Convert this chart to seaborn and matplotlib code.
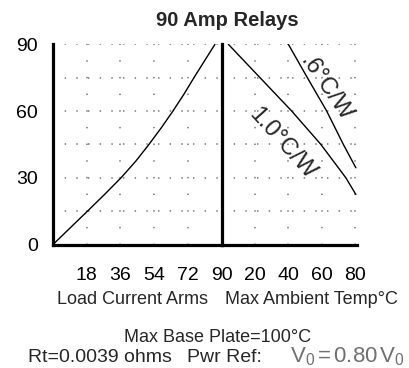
import numpy as np
import pandas as pd
import matplotlib
matplotlib.use("Agg")
import matplotlib.pyplot as plt
import seaborn as sns

sns.set_theme(style='white')
plt.rcParams['font.family'] = ['Liberation Sans', 'DejaVu Sans']
plt.rcParams['mathtext.fontset'] = 'custom'
plt.rcParams['mathtext.rm'] = 'Liberation Sans'
plt.rcParams['mathtext.it'] = 'Liberation Sans'

# power dissipation (W) vs load current (A rms)
load_current = [0, 9.2, 18.4, 27.5, 36.3, 44.2, 51.2, 57.8, 64, 69.8, 75.2, 80.8, 86.4]
load_power = [0, 7.5, 15, 22.5, 30, 37.5, 45, 52.5, 60, 67.5, 75, 82.5, 90]

# max ambient temp (C) vs power for two heatsink ratings
temp_1_0 = [4, 23, 42, 59.5, 74.5, 80.5]
power_1_0 = [90, 75, 60, 45, 30, 22.5]
temp_0_6 = [40, 51.4, 63, 73, 80.5]
power_0_6 = [90, 75, 60, 45, 34.5]

current_ticks = [18, 36, 54, 72, 90]
temp_ticks = [20, 40, 60, 80]
power_ticks = [0, 30, 60, 90]
power_grid = [15, 30, 45, 60, 75, 90]

W, H = 409, 368
fig = plt.figure(figsize=(W / 100, H / 100), dpi=100)
x0, xm, x1 = 53, 221.7, 357
ytop, ybot = 44.3, 244.5
ax1 = fig.add_axes([x0 / W, 1 - ybot / H, (xm - x0) / W, (ybot - ytop) / H])
ax2 = fig.add_axes([xm / W, 1 - ybot / H, (x1 - xm) / W, (ybot - ytop) / H])

df_load = pd.DataFrame({'I': load_current, 'P': load_power})
sns.lineplot(data=df_load, x='I', y='P', ax=ax1, color='black', lw=1.0, sort=False)
df_a = pd.DataFrame({'T': temp_1_0, 'P': power_1_0})
df_b = pd.DataFrame({'T': temp_0_6, 'P': power_0_6})
sns.lineplot(data=df_a, x='T', y='P', ax=ax2, color='black', lw=1.0, sort=False)
sns.lineplot(data=df_b, x='T', y='P', ax=ax2, color='black', lw=1.0, sort=False)

grid_col = '#8a8a8a'
for ax, xt, xmax in [(ax1, current_ticks[:-1], 90), (ax2, temp_ticks, 81.2)]:
    ax.set_xlim(0, xmax)
    ax.set_ylim(0, 90)
    for y in power_grid:
        ax.axhline(y, color=grid_col, lw=1.3, ls=(0, (0.8, 5.66)), zorder=0)
    for x in xt:
        ax.axvline(x, color=grid_col, lw=1.3, ls=(0, (0.8, 8.43)), zorder=0)
    for s in ['top', 'right']:
        ax.spines[s].set_visible(False)
    for s in ['left', 'bottom']:
        ax.spines[s].set_linewidth(2.3)
        ax.spines[s].set_color('black')
    ax.set_xlabel('')
    ax.set_ylabel('')
    ax.tick_params(length=0, labelsize=14, colors='black')
    ax.tick_params(axis='x', pad=16)

ax1.set_xticks(current_ticks)
ax2.set_xticks(temp_ticks)
ax1.set_yticks(power_ticks)
ax1.tick_params(axis='y', pad=11)
ax2.set_yticks([])

ax2.text(62.9, 70, '.6°C/W', rotation=-55.6, ha='center', va='center', fontsize=17)
ax2.text(36, 45.4, '1.0°C/W', rotation=-48, ha='center', va='center', fontsize=17)

fig.text(227 / W, 1 - 21 / H, '90 Amp Relays', ha='center', va='center',
         fontsize=14.5, fontweight='bold')
fig.text(57 / W, 1 - 300 / H, 'Load Current Arms', ha='left', va='center', fontsize=13)
fig.text(225 / W, 1 - 300 / H, 'Max Ambient Temp°C', ha='left', va='center', fontsize=13)
fig.text(218 / W, 1 - 338 / H, 'Max Base Plate=100°C', ha='center', va='center', fontsize=13)
fig.text(28 / W, 1 - 357 / H, 'Rt=0.0039 ohms', ha='left', va='center', fontsize=14)
fig.text(187 / W, 1 - 357 / H, 'Pwr Ref:', ha='left', va='center', fontsize=14)
fig.text(405 / W, 1 - 357 / H, r'V$_0\,$=$\,$0.80$\,$V$_0$', ha='right',
         va='center', fontsize=16, color='#707070')

fig.savefig('out.png', dpi=100)
